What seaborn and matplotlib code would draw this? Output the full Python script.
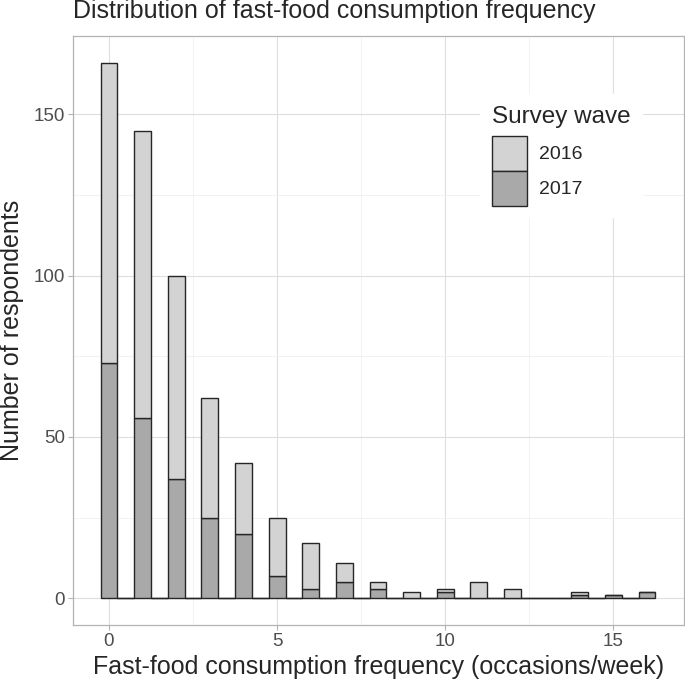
import pandas as pd
import numpy as np
import matplotlib
matplotlib.use("Agg")
import matplotlib.pyplot as plt
import seaborn as sns
from matplotlib.ticker import MultipleLocator

# consumption frequency (occasions/week) and respondent counts per survey wave
frequency = list(range(17))
count_2016 = [93, 89, 63, 37, 22, 18, 14, 6, 2, 2, 1, 5, 3, 0, 1, 0, 0]
count_2017 = [73, 56, 37, 25, 20, 7, 3, 5, 3, 0, 2, 0, 0, 0, 1, 1, 2]
waves = ["2016", "2017"]
wave_colors = ["#D3D3D3", "#A9A9A9"]

df = pd.concat([
    pd.DataFrame({"freq": frequency, "n": count_2016, "wave": "2016"}),
    pd.DataFrame({"freq": frequency, "n": count_2017, "wave": "2017"}),
])

sns.set_theme(style="white")
plt.rcParams["font.family"] = ["Liberation Sans", "DejaVu Sans"]

fig = plt.figure(figsize=(6.85, 6.85), dpi=100)
ax = fig.add_axes([73 / 685, 60 / 685, 611 / 685, 589 / 685])

sns.histplot(data=df, x="freq", weights="n", hue="wave", hue_order=waves,
             palette=wave_colors, multiple="stack", binwidth=0.5,
             binrange=(-0.25, 16.25), edgecolor="#262626", linewidth=1,
             alpha=1, ax=ax)

ax.set_xlim(-1.07, 17.1)
ax.set_ylim(-8.3, 174.3)
ax.xaxis.set_major_locator(MultipleLocator(5))
ax.xaxis.set_minor_locator(MultipleLocator(2.5))
ax.yaxis.set_major_locator(MultipleLocator(50))
ax.yaxis.set_minor_locator(MultipleLocator(25))
ax.set_axisbelow(True)
ax.grid(which="major", color="#DEDEDE", linewidth=0.8)
ax.grid(which="minor", color="#EDEDED", linewidth=0.5)
for s in ax.spines.values():
    s.set_color("#B3B3B3")
    s.set_linewidth(0.9)
ax.tick_params(which="major", length=3.6, width=0.8, color="#B3B3B3",
               labelsize=13.5, labelcolor="#4D4D4D", pad=2.2,
               bottom=True, left=True)
ax.tick_params(which="minor", length=0)

ax.set_xlabel("Fast-food consumption frequency (occasions/week)", fontsize=18)
ax.set_ylabel("Number of respondents", fontsize=18)
ax.xaxis.set_label_coords(0.5, -0.051)
ax.yaxis.set_label_coords(-0.080, 0.5)
ax.set_title("Distribution of fast-food consumption frequency", loc="left",
             fontsize=18, pad=13)

sns.move_legend(ax, "upper left", bbox_to_anchor=(0.650, 0.918),
                title="Survey wave", title_fontsize=17.5, fontsize=14,
                frameon=True, facecolor="white", edgecolor="white",
                framealpha=1, handlelength=1.8, handleheight=2.39,
                labelspacing=0, handletextpad=0.62, borderpad=0.6,
                alignment="left")
# a bit more room between legend title and keys
ax.get_legend()._legend_box.sep = 5.8

fig.savefig("out.png", dpi=100)
